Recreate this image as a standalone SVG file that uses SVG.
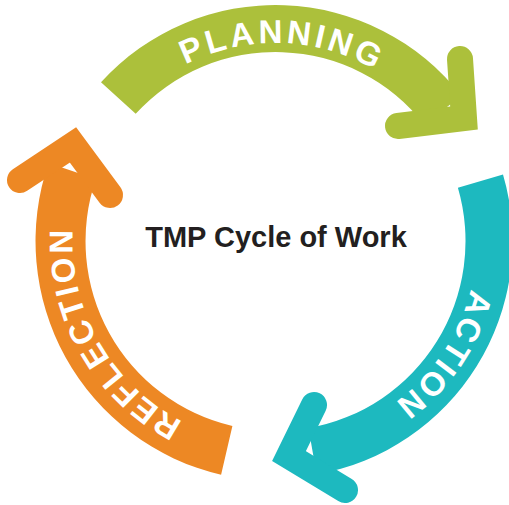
<svg xmlns="http://www.w3.org/2000/svg" width="509" height="505" viewBox="0 0 509 505">
<style>
.lbl{font-family:"Liberation Sans",Arial,sans-serif;font-weight:bold;font-size:33px;fill:#fff;letter-spacing:2.5px}
.wide{letter-spacing:3.5px}
.title{font-family:"Liberation Sans",Arial,sans-serif;font-weight:bold;font-size:29px;fill:#231f20}
.head{fill:none;stroke-width:26;stroke-linecap:round;stroke-linejoin:miter}
</style>
<defs>
<path id="tpGreen" d="M 107.6 136.1 A 198 198 0 0 1 450.3 148.0"/>
<path id="tpTeal" d="M 456.2 152.9 A 201 201 0 0 1 261.5 441.5"/>
<path id="tpOrange" d="M 273.7 444.0 A 203 203 0 0 1 100.6 138.0"/>
</defs>
<rect width="509" height="505" fill="#fff"/>
<g id="connectors">
<g id="planning-arrow">
<path d="M 101.0 82.2 A 236 236 0 0 1 461.5 95.7 L 424.4 124.6 A 189 189 0 0 0 135.7 113.8 Z" fill="#acc03b"/>
<path class="head" d="M 460 59 L 464 118 L 398 126" stroke="#acc03b"/>
</g>
<g id="action-arrow">
<path d="M 503.0 174.5 A 237 237 0 0 1 316.6 474.4 L 308.5 428.1 A 190 190 0 0 0 457.9 187.7 Z" fill="#1db9bf"/>
<path class="head" d="M 314 405 L 289 456 L 345 490" stroke="#1db9bf"/>
</g>
<g id="reflection-arrow">
<path d="M 221.1 474.8 A 240 240 0 0 1 48.6 162.9 L 95.9 179.1 A 190 190 0 0 0 232.4 426.1 Z" fill="#ed8824"/>
<path class="head" d="M 20 180 L 73 145 L 110 195" stroke="#ed8824"/>
</g>
</g>
<g id="planning"><text class="lbl wide" text-anchor="middle"><textPath href="#tpGreen" startOffset="50%">PLANNING</textPath></text></g>
<g id="action"><text class="lbl" text-anchor="middle"><textPath href="#tpTeal" startOffset="50%">ACTION</textPath></text></g>
<g id="reflection"><text class="lbl" text-anchor="middle"><textPath href="#tpOrange" startOffset="50%">REFLECTION</textPath></text></g>
<g id="center"><text class="title" x="276" y="247" text-anchor="middle">TMP Cycle of Work</text></g>
</svg>
